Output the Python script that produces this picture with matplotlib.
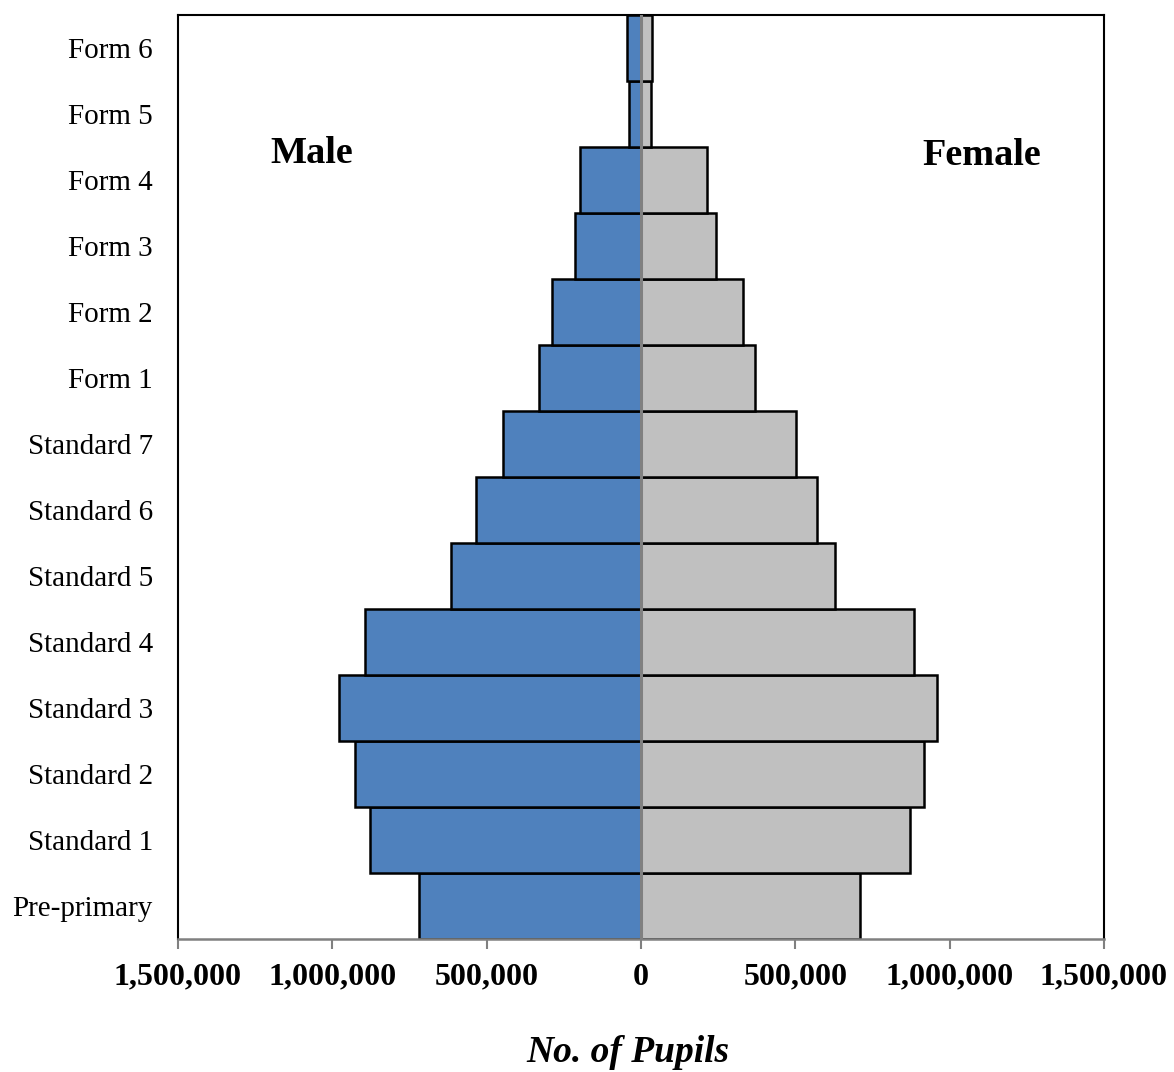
import matplotlib
matplotlib.use("Agg")
import matplotlib.pyplot as plt
from matplotlib.ticker import FuncFormatter

categories = ["Pre-primary", "Standard 1", "Standard 2", "Standard 3", "Standard 4",
              "Standard 5", "Standard 6", "Standard 7", "Form 1", "Form 2",
              "Form 3", "Form 4", "Form 5", "Form 6"]
male = [720000, 879000, 928000, 978000, 895000, 614000, 533000, 446000,
        330000, 288000, 213000, 197000, 40000, 45000]
female = [709000, 873000, 918000, 960000, 883000, 627000, 569000, 501000,
          369000, 330000, 242000, 214000, 32000, 36000]
xticks = [-1500000, -1000000, -500000, 0, 500000, 1000000, 1500000]

plt.rcParams['font.family'] = ['Liberation Serif', 'DejaVu Serif']

fig = plt.figure(figsize=(11.74, 10.72), dpi=100)
ax = fig.add_axes([178/1174, 133/1072, (1104-178)/1174, (939-15)/1072])

y = list(range(len(categories)))
ax.barh(y, [-v for v in male], height=1.0, color="#4F81BD", edgecolor="black", linewidth=1.8, zorder=2)
ax.barh(y, female, height=1.0, color="#C0C0C0", edgecolor="black", linewidth=1.8, zorder=2)
ax.axvline(0, color="#808080", linewidth=2.2, zorder=3)

ax.set_xlim(-1500000, 1500000)
ax.set_ylim(-0.5, len(categories) - 0.5)
ax.set_yticks(y)
ax.set_yticklabels(categories, fontsize=21)
ax.tick_params(axis='y', length=0, pad=18)
ax.set_xticks(xticks)
ax.xaxis.set_major_formatter(FuncFormatter(lambda v, p: f"{abs(int(v)):,}"))
ax.tick_params(axis='x', direction='out', length=7, width=1.5, color="#808080", pad=10, labelsize=23)
for lab in ax.get_xticklabels():
    lab.set_fontweight('bold')

for s in ['top', 'left', 'right']:
    ax.spines[s].set_color('black')
    ax.spines[s].set_linewidth(1.5)
ax.spines['bottom'].set_color('#808080')
ax.spines['bottom'].set_linewidth(1.8)

ax.text(-1067000, 11.40, "Male", fontsize=27.5, fontweight='bold', ha='center', va='center')
ax.text(1105000, 11.37, "Female", fontsize=27.5, fontweight='bold', ha='center', va='center')

fig.text(628/1174, 10/1072, "No. of Pupils", fontsize=27, fontweight='bold', style='italic',
         ha='center', va='baseline')

fig.savefig("out.png", dpi=100, facecolor="white")
